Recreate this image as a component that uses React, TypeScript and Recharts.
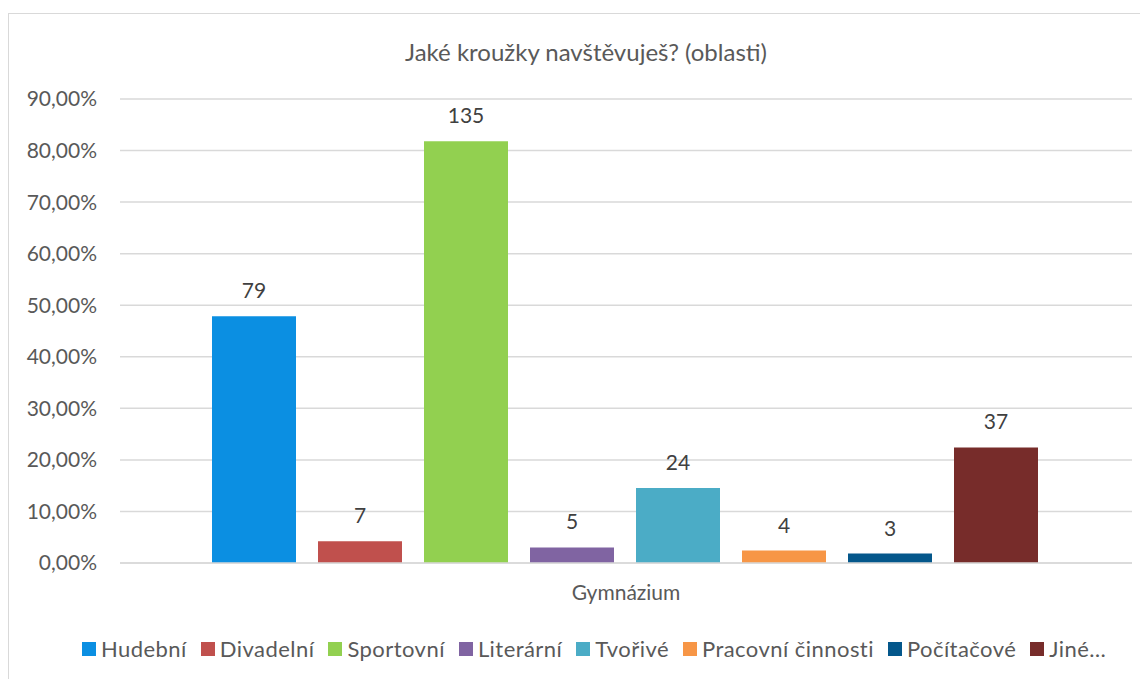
import { BarChart, Bar, XAxis, YAxis, CartesianGrid, Legend } from "recharts";

const seriesNames = [
  "Hudební",
  "Divadelní",
  "Sportovní",
  "Literární",
  "Tvořivé",
  "Pracovní činnosti",
  "Počítačové",
  "Jiné…",
];
// share of pupils (%)
const percentValues = [47.88, 4.24, 81.82, 3.03, 14.55, 2.42, 1.82, 22.42];
// counts shown above the bars
const countLabels = [79, 7, 135, 5, 24, 4, 3, 37];
const colors = [
  "#0b8fe2",
  "#c0504d",
  "#92d050",
  "#8064a2",
  "#4bacc6",
  "#f79646",
  "#04578b",
  "#772c2a",
];
const category = "Gymnázium";
const yTicks = [0, 10, 20, 30, 40, 50, 60, 70, 80, 90];

const FONT = "Lato, 'Open Sans', sans-serif";

const row: Record<string, string | number> = { name: category };
seriesNames.forEach((s, i) => {
  row[s] = percentValues[i];
});
const data = [row];

function LegendRow() {
  return (
    <div
      style={{
        display: "flex",
        alignItems: "center",
        fontFamily: FONT,
        fontSize: 22,
        letterSpacing: 0.45,
        color: "#595959",
        whiteSpace: "nowrap",
      }}
    >
      {seriesNames.map((s, i) => (
        <div key={s} style={{ display: "flex", alignItems: "center", marginRight: 14 }}>
          <span style={{ width: 14, height: 14, background: colors[i], marginRight: 5, display: "inline-block" }} />
          <span>{s}</span>
        </div>
      ))}
    </div>
  );
}

export default function App() {
  return (
    <div
      style={{
        marginTop: 5,
        width: 1138,
        height: 665,
        border: "1px solid #d9d9d9",
        borderBottom: "none",
        position: "relative",
        background: "#fff",
        fontFamily: FONT,
      }}
    >
      <div
        style={{
          position: "absolute",
          top: 23,
          left: 8,
          width: 1138,
          textAlign: "center",
          fontSize: 24,
          color: "#595959",
        }}
      >
        Jaké kroužky navštěvuješ? (oblasti)
      </div>
      <BarChart
        width={1138}
        height={665}
        data={data}
        margin={{ top: 85, right: 15, left: 0, bottom: 0 }}
        barCategoryGap={92}
        barGap={22}
      >
        <CartesianGrid vertical={false} stroke="#d9d9d9" strokeWidth={1.5} />
        <XAxis
          dataKey="name"
          height={116}
          axisLine={{ stroke: "#d9d9d9", strokeWidth: 1.5 }}
          tickLine={false}
          tickSize={0}
          tickMargin={0}
          tick={({ x, y, payload }: any) => (
            <text x={x} y={y + 37} textAnchor="middle" fill="#595959" fontSize={21} fontFamily={FONT}>
              {payload.value}
            </text>
          )}
        />
        <YAxis
          width={111}
          domain={[0, 90]}
          ticks={yTicks}
          axisLine={false}
          tickLine={false}
          tickSize={0}
          tickMargin={23}
          tick={{ fill: "#595959", fontSize: 21, fontFamily: FONT }}
          tickFormatter={(v: number) => v.toFixed(2).replace(".", ",") + "%"}
        />
        <Legend
          verticalAlign="middle"
          layout="horizontal"
          wrapperStyle={{ top: 621, left: 73, width: 1060 }}
          content={() => <LegendRow />}
        />
        {seriesNames.map((s, i) => (
          <Bar
            key={s}
            dataKey={s}
            fill={colors[i]}
            isAnimationActive={false}
            label={(p: any) => (
              <text
                x={p.x + p.width / 2}
                y={p.y - 18}
                textAnchor="middle"
                fill="#404040"
                fontSize={21}
                fontFamily={FONT}
              >
                {countLabels[i]}
              </text>
            )}
          />
        ))}
      </BarChart>
    </div>
  );
}
